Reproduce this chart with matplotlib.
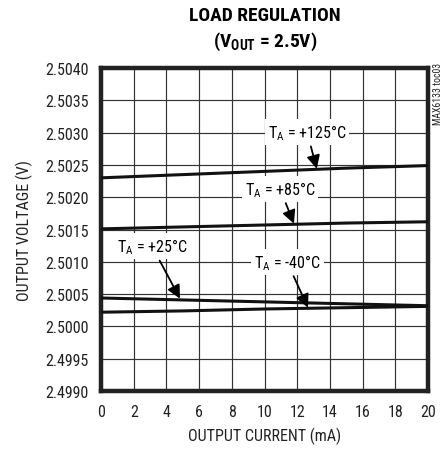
import matplotlib
matplotlib.use("Agg")
import matplotlib.pyplot as plt

plt.rcParams['font.family'] = ['Roboto Condensed', 'Liberation Sans', 'DejaVu Sans']

# Data
current_ma = [0, 5, 10, 15, 20]
v_125 = [2.50230, 2.50235, 2.50240, 2.50245, 2.50249]
v_85 = [2.50151, 2.50154, 2.50157, 2.50160, 2.50162]
v_25 = [2.50044, 2.50041, 2.50038, 2.50035, 2.50032]
v_m40 = [2.50022, 2.50024, 2.50027, 2.50029, 2.50031]

x_ticks = [0, 2, 4, 6, 8, 10, 12, 14, 16, 18, 20]
y_ticks = [2.4990, 2.4995, 2.5000, 2.5005, 2.5010, 2.5015, 2.5020, 2.5025, 2.5030, 2.5035, 2.5040]

fig = plt.figure(figsize=(4.46, 4.52), dpi=100)
ax = fig.add_axes([0.2265, 0.1327, 0.9596 - 0.2265, 0.8473 - 0.1327])

for y in [v_125, v_85, v_25, v_m40]:
    ax.plot(current_ma, y, color='#111111', lw=2.2, zorder=3, solid_capstyle='butt')

ax.set_xlim(0, 20)
ax.set_ylim(2.4990, 2.5040)
ax.set_xticks(x_ticks)
ax.set_yticks(y_ticks)
ax.set_xticklabels([str(t) for t in x_ticks])
ax.set_yticklabels([f"{t:.4f}" for t in y_ticks])
ax.tick_params(length=0, labelsize=11.5, pad=9, colors='#222222')
ax.grid(True, color='#333333', lw=0.85, zorder=1)
for s in ax.spines.values():
    s.set_linewidth(3.2)
    s.set_color('#222222')

ax.set_xlabel("OUTPUT CURRENT (mA)", fontsize=11.5, labelpad=6, color='#222222')
ax.set_ylabel("OUTPUT VOLTAGE (V)", fontsize=11.5, labelpad=9, color='#222222')

box = dict(boxstyle='square,pad=0.2', fc='white', ec='none')
arrow = dict(arrowstyle='-|>', color='black', lw=1.3, mutation_scale=20, shrinkA=1, shrinkB=0)

ax.annotate(r"T$_\mathregular{A}$ = +125°C", xy=(13.2, 2.50244), xytext=(12.6, 2.50301),
            ha='center', va='center', fontsize=11.5, bbox=box, arrowprops=arrow, zorder=5)
ax.annotate(r"T$_\mathregular{A}$ = +85°C", xy=(11.8, 2.50159), xytext=(10.95, 2.50213),
            ha='center', va='center', fontsize=11.5, bbox=box, arrowprops=arrow, zorder=5)
ax.annotate(r"T$_\mathregular{A}$ = +25°C", xy=(4.83, 2.50043), xytext=(3.12, 2.50124),
            ha='center', va='center', fontsize=11.5, bbox=box, arrowprops=arrow, zorder=5)
ax.annotate(r"T$_\mathregular{A}$ = -40°C", xy=(12.66, 2.50029), xytext=(11.38, 2.50100),
            ha='center', va='center', fontsize=11.5, bbox=box, arrowprops=arrow, zorder=5)

fig.text(0.594, 0.965, "LOAD REGULATION", ha='center', va='center', fontsize=14, fontweight='bold')
fig.text(0.594, 0.907, r"(V$_\mathregular{OUT}$ = 2.5V)", ha='center', va='center', fontsize=14, fontweight='bold')
fig.text(0.982, 0.861, "MAX6133 toc03", rotation=90, ha='center', va='top', fontsize=7, color='#222222')

fig.savefig("out.png", dpi=100)
